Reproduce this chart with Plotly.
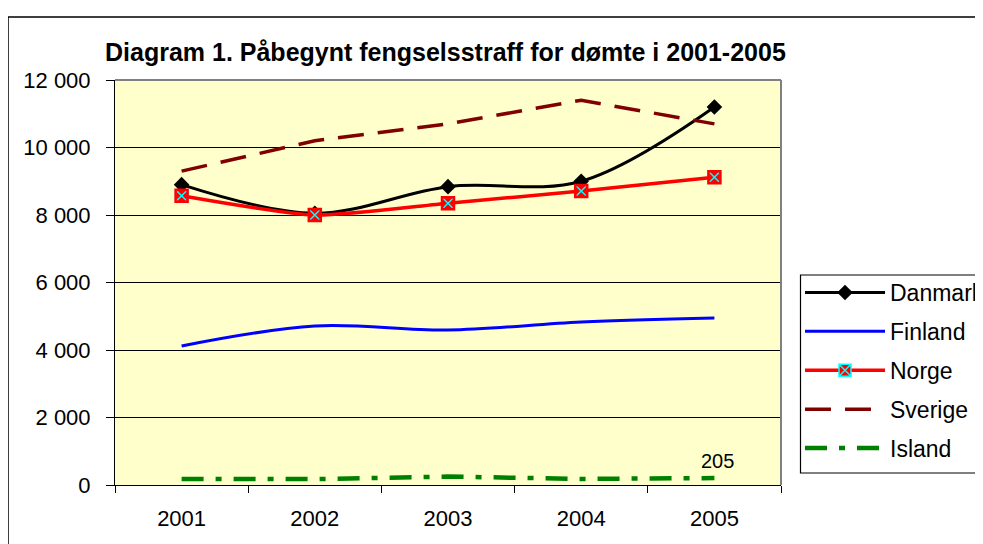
import plotly.graph_objects as go

years = ["2001", "2002", "2003", "2004", "2005"]
danmark = [8900, 8050, 8840, 9000, 11200]
finland = [4120, 4710, 4590, 4830, 4950]
norge = [8570, 8000, 8350, 8710, 9120]
sverige = [9300, 10200, 10700, 11400, 10700]
island = [180, 175, 250, 180, 205]
ytick_vals = [0, 2000, 4000, 6000, 8000, 10000, 12000]
ytick_text = ["0", "2 000", "4 000", "6 000", "8 000", "10 000", "12 000"]

# page body adds 8px margin, so work in shifted coordinates
OFF = 8
W, H = 983 - OFF, 544 - OFF
L, R, T, B = 115 - OFF, 781 - OFF, 80 - OFF, 485 - OFF

def px(x):
    return (x - OFF - L) / (R - L)

def py(y):
    return (B - (y - OFF)) / (B - T)

FONT = "Liberation Sans, Arial, sans-serif"

fig = go.Figure()
fig.add_trace(go.Scatter(x=years, y=danmark, name="Danmark", mode="lines+markers",
                         line=dict(color="black", width=3, shape="spline", smoothing=1),
                         marker=dict(symbol="diamond", size=12, color="black"),
                         legendgroup="a"))
fig.add_trace(go.Scatter(x=years, y=finland, name="Finland", mode="lines",
                         line=dict(color="#0000FF", width=3, shape="spline", smoothing=1),
                         legendgroup="b"))
fig.add_trace(go.Scatter(x=years, y=norge, name="Norge", mode="lines+markers",
                         line=dict(color="#FF0000", width=3.5, shape="spline", smoothing=0.6),
                         marker=dict(symbol="square-x", size=12, color="#FF0000",
                                     line=dict(color="#00FFFF", width=1.5)),
                         legendgroup="c"))
fig.add_trace(go.Scatter(x=years, y=norge, mode="markers", showlegend=False, hoverinfo="skip",
                         marker=dict(symbol="square-open", size=12, color="#FF0000",
                                     line=dict(color="#FF0000", width=2.5)),
                         legendgroup="c"))
fig.add_trace(go.Scatter(x=years, y=sverige, name="Sverige", mode="lines",
                         line=dict(color="#800000", width=3.5, dash="26px,14px"),
                         legendgroup="d"))
fig.add_trace(go.Scatter(x=years, y=island, name="Island", mode="lines",
                         line=dict(color="#008000", width=4.5, dash="22px,12px,6px,12px"),
                         legendgroup="e"))

fig.add_annotation(x=4, y=island[4], xref="x", yref="y", text=str(island[4]),
                   showarrow=False, yshift=17, xshift=3,
                   font=dict(family=FONT, size=20, color="black"))

fig.add_annotation(x=px(445), y=py(52), xref="paper", yref="paper",
                   text="<b>Diagram 1. Påbegynt fengselsstraff for dømte i 2001-2005</b>",
                   showarrow=False, xanchor="center", yanchor="middle",
                   font=dict(family=FONT, size=25, color="black"))

# plot area border (top/right gray), outer chart border, legend box
fig.add_shape(type="line", xref="paper", yref="paper", x0=0, x1=1, y0=1, y1=1,
              line=dict(color="#808080", width=2))
fig.add_shape(type="line", xref="paper", yref="paper", x0=1, x1=1, y0=0, y1=1,
              line=dict(color="#808080", width=2))
fig.add_shape(type="rect", xref="paper", yref="paper", x0=px(8), x1=px(1010),
              y0=py(570), y1=py(17), line=dict(color="black", width=1.5))
fig.add_shape(type="rect", xref="paper", yref="paper", x0=px(800.5), x1=px(1010),
              y0=py(473), y1=py(275), line=dict(color="black", width=1.2),
              fillcolor="white", layer="above")

fig.update_layout(
    width=W, height=H,
    margin=dict(l=L, r=W - R, t=T, b=H - B, autoexpand=False),
    paper_bgcolor="white", plot_bgcolor="#FFFFCC",
    font=dict(family=FONT, size=20, color="black"),
    showlegend=True,
    legend=dict(x=px(800), y=py(271), xanchor="left", yanchor="top",
                bgcolor="rgba(0,0,0,0)", borderwidth=0,
                font=dict(family=FONT, size=23, color="black"),
                itemwidth=80, tracegroupgap=6, traceorder="grouped"),
    xaxis=dict(type="category", range=[-0.5, 4.5], tickson="boundaries",
               ticks="outside", ticklen=7, tickcolor="black", showgrid=False,
               showline=True, linecolor="black", linewidth=1, zeroline=False,
               ticklabelstandoff=14, tickfont=dict(family=FONT, size=22)),
    yaxis=dict(range=[0, 12000], tickvals=ytick_vals, ticktext=ytick_text,
               ticks="outside", ticklen=8, tickcolor="black", showgrid=True,
               gridcolor="black", gridwidth=1, showline=True, linecolor="black",
               linewidth=1, zeroline=False, ticklabelstandoff=11,
               tickfont=dict(family=FONT, size=22)),
)

fig.write_html("out.html")
